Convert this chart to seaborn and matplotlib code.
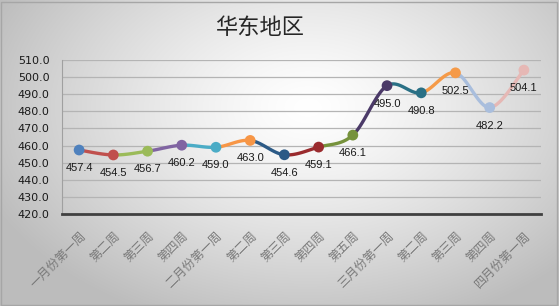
import numpy as np
import pandas as pd
import matplotlib
matplotlib.use("Agg")
import matplotlib.pyplot as plt
import seaborn as sns

categories = ["一月份第一周", "第二周", "第三周", "第四周", "二月份第一周", "第二周", "第三周",
              "第四周", "第五周", "三月份第一周", "第二周", "第三周", "第四周", "四月份第一周"]
values = [457.4, 454.5, 456.7, 460.2, 459.0, 463.0, 454.6, 459.1, 466.1, 495.0, 490.8, 502.5, 482.2, 504.1]
point_colors = ["#4F81BD", "#C0504D", "#9BBB59", "#8064A2", "#4BACC6", "#F79646", "#2C5A86",
                "#9A2B2E", "#76923C", "#4B3A68", "#2A7085", "#F59A48", "#A9BEDD", "#E6B8B5"]
title = "华东地区"
yticks = [420.0, 430.0, 440.0, 450.0, 460.0, 470.0, 480.0, 490.0, 500.0, 510.0]

sns.set_style("white")
plt.rcParams['font.family'] = ['Noto Sans CJK SC', 'DejaVu Sans']

W, H = 559, 306
fig = plt.figure(figsize=(W / 100, H / 100), dpi=100)

# background gradient
bg = fig.add_axes([0, 0, 1, 1], zorder=-10)
yy, xx = np.mgrid[0:H, 0:W]
cx, cy = W * 0.55, H * 0.35
r = np.sqrt(((xx - cx) / (W * 0.62)) ** 2 + ((yy - cy) / (H * 0.75)) ** 2)
r = np.clip(r, 0, 1)
shade = 1.0 - 0.26 * r ** 1.3
img = np.dstack([shade, shade, shade])
bg.imshow(img, aspect="auto", extent=[0, 1, 0, 1], origin="upper")
bg.set_xlim(0, 1)
bg.set_ylim(0, 1)
bg.axis("off")
bg.add_patch(plt.Rectangle((0.002, 0.004), 0.994, 0.99, fill=False, edgecolor="#A6A6A6", lw=1.0,
                           transform=bg.transAxes))

ax = fig.add_axes([62 / W, 1 - 214 / H, (541 - 62) / W, (214 - 60) / H])
ax.patch.set_alpha(0)

df = pd.DataFrame({"x": np.arange(len(values)), "y": values, "cat": [f"p{i}" for i in range(len(values))]})

def catmull(p0, p1, p2, p3, n=30):
    c1 = p1 + (p2 - p0) / 6.0
    c2 = p2 - (p3 - p1) / 6.0
    t = np.linspace(0, 1, n)[:, None]
    return ((1 - t) ** 3) * p1 + 3 * ((1 - t) ** 2) * t * c1 + 3 * (1 - t) * t ** 2 * c2 + t ** 3 * p2

pts = np.column_stack([df["x"].values, df["y"].values]).astype(float)
n = len(pts)
for i in range(n - 1):
    p0 = pts[i - 1] if i > 0 else pts[i]
    p3 = pts[i + 2] if i + 2 < n else pts[i + 1]
    seg = catmull(p0, pts[i], pts[i + 1], p3)
    sdf = pd.DataFrame({"sx": seg[:, 0], "sy": seg[:, 1]})
    sns.lineplot(data=sdf, x="sx", y="sy", sort=False, color=point_colors[i + 1], lw=2.4,
                 ax=ax, zorder=3, estimator=None)

sns.scatterplot(data=df, x="x", y="y", hue="cat", palette=point_colors, s=60, edgecolor="none",
                legend=False, ax=ax, zorder=4)

for xi, v in zip(df["x"], values):
    ax.annotate(f"{v:.1f}", (xi, v), xytext=(0, -18), textcoords="offset pixels",
                ha="center", va="center", fontsize=8, color="#1a1a1a", family="Liberation Sans", zorder=5)

ax.set_xlim(-0.5, n - 0.5)
ax.set_ylim(420, 510)
ax.set_yticks(yticks)
ax.set_yticklabels([f"{t:.1f}" for t in yticks], fontsize=8, color="#1a1a1a", family="DejaVu Sans")
ax.set_xticks(np.arange(n))
ax.set_xticklabels(categories, rotation=45, ha="right", rotation_mode="anchor", fontsize=8.8,
                   color="#7A7A7A")
ax.tick_params(axis="x", length=0, pad=11)
ax.set_xticks(np.arange(-0.5, n, 1), minor=True)
ax.tick_params(axis="x", which="minor", length=4, width=1.5, color="#404040", direction="out")
ax.tick_params(axis="y", length=3, width=0.8, color="#A0A0A0", direction="out", pad=6)
ax.grid(axis="y", color="#B4B4B4", lw=0.9)
ax.set_axisbelow(True)
for s in ["top", "right"]:
    ax.spines[s].set_visible(False)
ax.spines["left"].set_color("#A0A0A0")
ax.spines["left"].set_linewidth(0.8)
ax.spines["bottom"].set_color("#404040")
ax.spines["bottom"].set_linewidth(2.0)
ax.set_xlabel("")
ax.set_ylabel("")

fig.text(260 / W, 1 - 27 / H, title, ha="center", va="center", fontsize=16, color="#262626")

fig.savefig("out.png", dpi=100)
